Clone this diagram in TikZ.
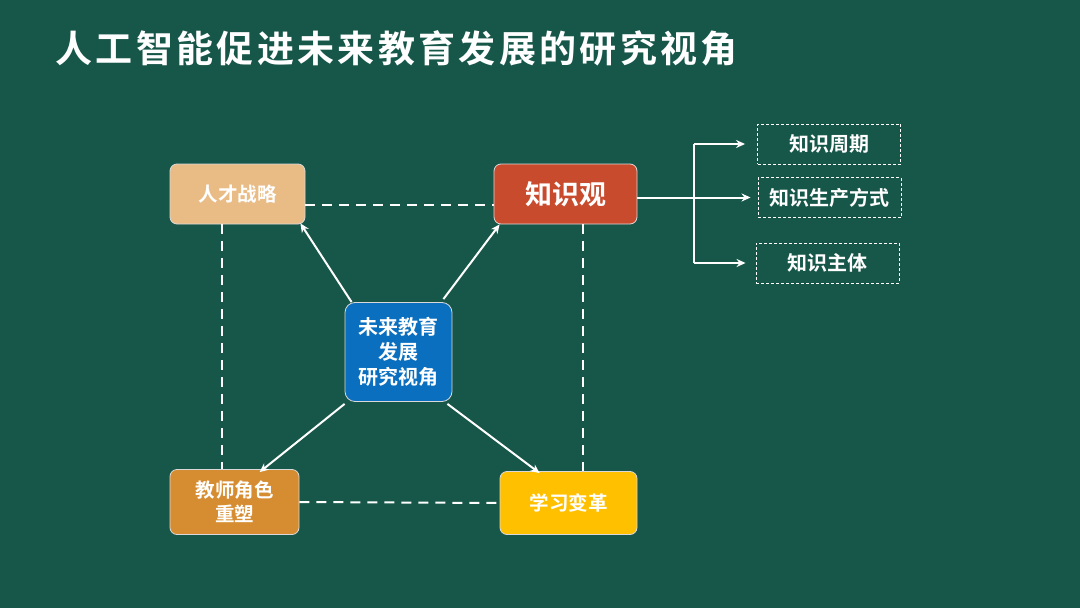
\documentclass[tikz,border=0pt]{standalone}
\usepackage{fontspec}
\setmainfont{Noto Sans CJK SC}
\newfontfamily\cjkbold{Noto Sans CJK SC Bold}
\usetikzlibrary{arrows.meta,calc,positioning}
\definecolor{BoardGreen}{HTML}{17574A}
\definecolor{BoxTan}{HTML}{E9BB85}
\definecolor{BoxRed}{HTML}{C84B2E}
\definecolor{BoxBlue}{HTML}{0B6FBF}
\definecolor{BoxOchre}{HTML}{D68D31}
\definecolor{BoxGold}{HTML}{FFC000}
\definecolor{BoxEdge}{HTML}{D9D9D9}
\tikzset{
  every node/.style={font=\cjkbold, text=white},
  topic/.style={draw=BoxEdge, line width=0.8pt, rounded corners=7pt, align=center, font=\cjkbold\fontsize{19.5}{23}\selectfont},
  aspect/.style={draw=white, line width=0.9pt, dashed, dash pattern=on 3pt off 2pt, minimum width=143pt, minimum height=40pt, font=\cjkbold\fontsize{20}{24}\selectfont},
  link/.style={draw=white, line width=2pt, dash pattern=on 10pt off 7pt},
  spoke/.style={-{Stealth[length=9pt,width=8pt]}, draw=white, line width=2pt},
  feed/.style={-{Stealth[length=9pt,width=8pt]}, draw=white, line width=2pt},
}

\begin{document}
\begin{tikzpicture}[x=1pt,y=-1pt]
  \fill[BoardGreen] (0,0) rectangle (1080,608);
  \useasboundingbox (0,0) rectangle (1080,608);
  % title
  \node[anchor=west, font=\cjkbold\addfontfeature{LetterSpace=9}\fontsize{37}{40}\selectfont] (title) at (52,48) {人工智能促进未来教育发展的研究视角};
  % four topics round the hub
  \node[topic, fill=BoxTan, minimum width=135pt, minimum height=60pt] (talent) at (237.5,194) {人才战略};
  \node[topic, fill=BoxRed, minimum width=143pt, minimum height=60pt, font=\cjkbold\fontsize{27}{30}\selectfont] (knowledge) at (565.5,194) {知识观};
  \node[topic, fill=BoxOchre, minimum width=129pt, minimum height=65pt, font=\cjkbold\fontsize{19.5}{24}\selectfont] (teacher) at (234.5,502) {教师角色\\重塑};
  \node[topic, fill=BoxGold, minimum width=137pt, minimum height=63pt] (learning) at (568.5,503) {学习变革};
  \node[topic, fill=BoxBlue, minimum width=107pt, minimum height=99pt, rounded corners=10pt, inner sep=2pt, font=\cjkbold\fontsize{20}{25}\selectfont] (hub) at (398.5,352) {未来教育\\发展\\研究视角};
  % dashed frame
  \draw[link] ([yshift=-11pt]talent.east) -- ([yshift=-11pt]knowledge.west);
  \draw[link] (teacher.east) -- (learning.west);
  \draw[link] ([xshift=-16pt]talent.south) -- ([xshift=-13pt]teacher.north);
  \draw[link] ([xshift=17.5pt]knowledge.south) -- ([xshift=14.5pt]learning.north);
  % spokes
  \draw[spoke] ([shift={(7pt,0pt)}]hub.north west) -- ([shift={(-5pt,1pt)}]talent.south east);
  \draw[spoke] ([shift={(-9pt,3pt)}]hub.north east) -- ([shift={(6pt,0pt)}]knowledge.south west);
  \draw[spoke] ([shift={(0pt,-2pt)}]hub.south west) -- ([shift={(90pt,-3pt)}]teacher.north west);
  \draw[spoke] ([shift={(-5pt,-2pt)}]hub.south east) -- ([shift={(40pt,-2pt)}]learning.north west);
  % aspects of knowledge
  \node[aspect] (kcycle) at (829,144) {知识周期};
  \node[aspect] (kform) at (829.5,197.5) {知识生产方式};
  \node[aspect] (kmain) at (827.5,263) {知识主体};
  \coordinate (fork) at (694,196);
  \draw[feed] (knowledge.east |- kform.west) -- ([xshift=-7pt]kform.west);
  \draw[draw=white, line width=1.5pt] (fork |- kcycle) -- (fork |- kmain);
  \draw[feed] (fork |- kcycle) -- ([xshift=-12pt]kcycle.west);
  \draw[feed] (fork |- kmain) -- ([xshift=-10pt]kmain.west);
\end{tikzpicture}
\end{document}
